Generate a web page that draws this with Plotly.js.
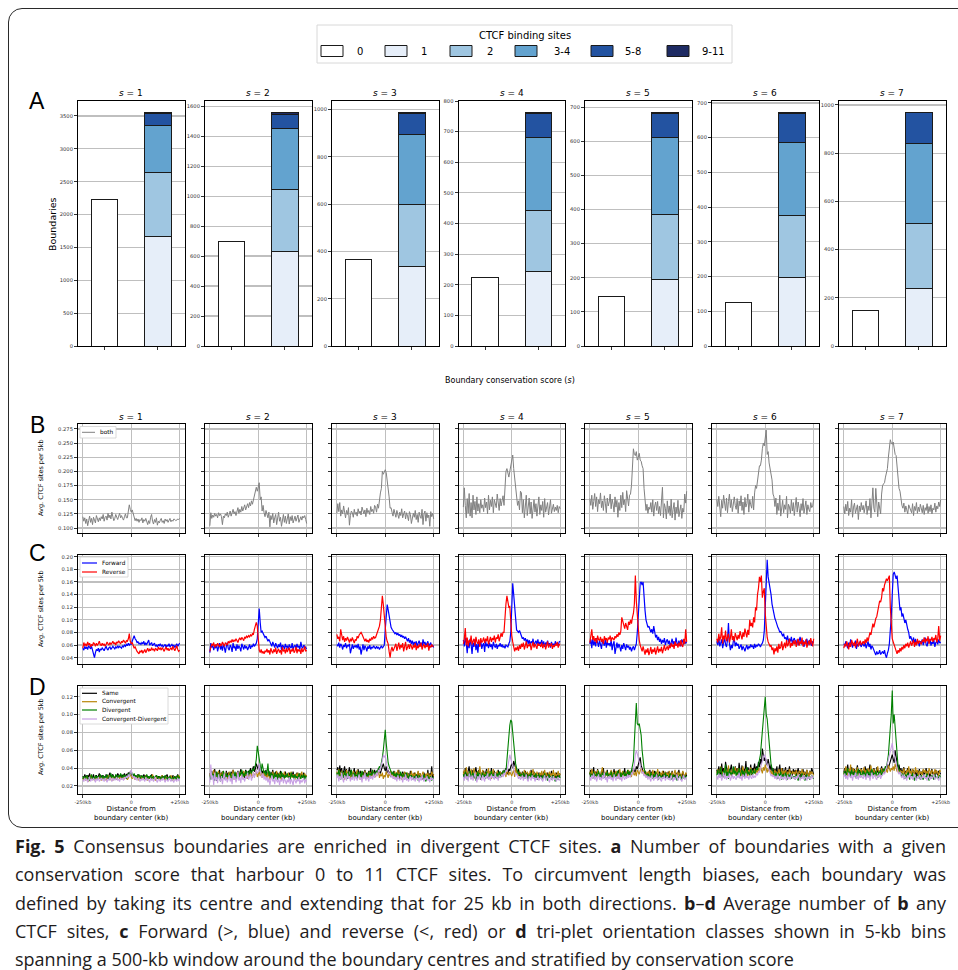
<!DOCTYPE html>
<html><head><meta charset="utf-8">
<script src="https://cdn.plot.ly/plotly-3.0.1.min.js"></script>
<style>
body{margin:0;background:#fff;}
#wrap{position:relative;width:958px;height:970px;overflow:hidden;background:#fff;}
#chart{position:absolute;left:0;top:0;width:958px;height:970px;}
#frame{position:absolute;left:8px;top:8px;width:990px;height:818px;border:1.5px solid #2a2a2a;border-radius:14px;pointer-events:none;}
#caption{position:absolute;left:15px;top:832px;font-family:"Open Sans",sans-serif;font-size:18px;line-height:28.3px;color:#1e1b1c;}
#caption div{width:931px;white-space:nowrap;}
#caption div.j{text-align:justify;text-align-last:justify;white-space:normal;}
</style></head>
<body><div id="wrap"><div id="chart"></div><div id="frame"></div>
<div id="caption">
<div class="j"><b>Fig. 5</b> Consensus boundaries are enriched in divergent CTCF sites. <b>a</b> Number of boundaries with a given</div>
<div class="j">conservation score that harbour 0 to 11 CTCF sites. To circumvent length biases, each boundary was</div>
<div class="j">defined by taking its centre and extending that for 25 kb in both directions. <b>b</b>–<b>d</b> Average number of <b>b</b> any</div>
<div class="j">CTCF sites, <b>c</b> Forward (&gt;, blue) and reverse (&lt;, red) or <b>d</b> tri-plet orientation classes shown in 5-kb bins</div>
<div>spanning a 500-kb window around the boundary centres and stratified by conservation score</div>
</div></div>
<script>
// ---------------- DATA ----------------
const scores = [1,2,3,4,5,6,7];
const siteClasses = ['0','1','2','3-4','5-8','9-11'];
// Panel A: boundaries per number of CTCF sites
const boundaries0   = [2230,700,367,224,146,126,149];
const boundaries1   = [1660,628,338,243,195,196,239];
const boundaries2   = [980,417,261,201,190,181,271];
const boundaries3_4 = [710,407,294,237,226,210,331];
const boundaries5_8 = [180,96,90,79,71,82,126];
const boundaries9_11= [20,9,4,2,2,3,1];
// Panels B-D: 5-kb bins (kb from boundary centre)
const xKb = [-250,-245,-240,-235,-230,-225,-220,-215,-210,-205,-200,-195,-190,-185,-180,-175,-170,-165,-160,-155,
-150,-145,-140,-135,-130,-125,-120,-115,-110,-105,-100,-95,-90,-85,-80,-75,-70,-65,-60,-55,
-50,-45,-40,-35,-30,-25,-20,-15,-10,-5,0,5,10,15,20,25,30,35,40,45,
50,55,60,65,70,75,80,85,90,95,100,105,110,115,120,125,130,135,140,145,
150,155,160,165,170,175,180,185,190,195,200,205,210,215,220,225,230,235,240,245,250];
// values below are in thousandths of a site per 5 kb
const VALUE_UNIT = 1000;
// B: both orientations
const bothS1 = [120,112,118,108,116,104,113,121,110,117,106,119,114,109,122,115,111,118,113,120,
116,124,112,119,121,114,126,118,123,116,128,120,113,117,124,119,115,121,126,118,
122,117,114,120,125,118,118,130,141,133,128,132,125,119,113,117,112,116,110,115,
113,118,109,115,112,117,110,106,113,108,119,124,112,107,115,110,118,105,112,109,
114,117,110,113,108,116,112,115,110,113,117,111,114,112,116,115,113,114,116,115,117];
const bothS2 = [104,127,117,123,119,126,121,124,118,127,122,125,120,106,121,118,125,122,128,119,
124,130,121,127,133,125,129,122,131,136,126,133,128,138,130,135,141,132,137,143,
136,145,139,148,142,150,158,160,172,165,176,180,150,155,130,140,127,120,131,124,
118,128,102,122,115,126,109,118,124,106,121,128,112,119,103,116,124,110,121,108,
118,125,107,120,113,122,109,117,121,112,119,123,110,116,120,114,121,118,122,115,108];
const bothS3 = [126,143,129,145,121,132,125,139,128,118,131,124,136,105,122,130,127,119,133,124,
128,121,134,126,130,123,137,129,125,132,120,135,127,131,124,138,129,133,126,140,
137,128,142,135,155,162,170,200,195,200,203,198,185,170,155,135,136,128,121,133,
126,119,131,124,117,128,122,134,118,125,130,116,127,121,113,129,124,108,122,126,
119,131,115,124,110,128,121,117,133,106,125,130,112,127,118,123,103,129,120,126,116];
const bothS4 = [137,171,140,118,152,126,161,121,145,118,158,132,147,124,155,130,143,127,150,135,
141,129,153,136,146,125,158,132,149,138,155,127,150,143,136,160,145,131,152,139,
148,157,140,180,200,205,196,190,200,210,216,229,205,185,170,155,140,148,132,165,
162,127,150,118,144,158,122,139,153,125,146,117,135,150,128,143,121,137,155,124,
141,131,147,119,152,128,136,145,123,139,150,126,134,142,129,137,131,140,127,138,134];
const bothS5 = [152,140,158,133,147,161,138,155,129,150,143,162,136,148,131,157,144,127,153,139,
146,160,134,151,142,128,155,137,149,119,145,131,158,136,163,141,150,129,166,147,
139,158,160,175,210,240,230,228,235,220,225,232,220,218,210,205,170,140,131,142,
126,137,133,145,128,150,121,139,146,131,147,125,138,122,154,172,118,143,135,116,
148,127,139,122,151,118,133,145,114,137,126,149,120,132,141,117,135,128,160,144,165];
const bothS6 = [151,138,156,142,120,149,135,158,144,131,153,127,147,160,136,150,129,145,155,140,
133,152,126,148,139,157,131,146,124,154,137,143,160,128,150,141,135,156,132,162,
175,170,182,200,210,210,220,240,250,245,260,273,230,235,215,205,200,185,160,155,
138,153,124,144,131,158,121,136,149,127,141,133,156,118,142,137,126,150,130,145,
122,139,154,128,146,135,120,143,131,152,126,137,148,124,141,133,129,145,136,139,151];
const bothS7 = [138,125,142,130,147,122,135,128,150,119,137,144,126,133,141,115,139,129,145,132,
140,127,136,148,124,139,131,152,118,143,171,135,128,170,134,120,146,137,125,160,
175,178,180,190,200,205,225,245,256,250,248,252,240,230,228,210,180,170,165,150,
140,135,144,128,139,132,125,141,136,130,127,143,122,138,131,145,126,137,129,142,
133,127,140,124,136,131,143,126,138,129,141,125,135,132,144,128,139,134,146,138,150];
// C: forward / reverse
const fwdS1 = [55,52,58,54,57,53,59,56,54,58,52,50,40,48,53,51,55,49,54,52,
56,53,51,55,58,54,52,56,57,53,55,58,56,54,57,55,59,56,58,57,
55,59,57,60,58,61,59,63,60,62,61,66,72,75,70,68,64,65,62,63,
61,64,62,66,60,63,61,65,68,60,62,64,59,61,63,58,60,57,61,59,
62,58,60,57,59,61,56,60,58,62,57,59,61,58,60,56,59,62,58,61,63];
const revS1 = [55,64,59,62,58,65,60,63,57,61,59,64,62,58,63,60,62,66,61,59,
63,60,62,58,61,65,62,60,64,61,63,66,62,64,60,65,63,67,64,62,
66,64,68,65,63,67,66,70,78,66,62,64,58,55,57,52,50,48,46,51,
49,52,47,50,53,48,52,55,50,53,51,56,52,54,50,55,53,51,57,53,
55,52,56,53,50,54,57,52,55,51,53,56,52,58,54,51,55,59,53,50,52];
const fwdS2 = [48,63,56,60,52,58,55,61,50,57,63,53,59,51,62,56,48,58,64,55,
52,60,57,49,63,55,58,51,61,54,59,56,50,62,57,53,60,55,58,52,
56,61,54,59,57,62,58,60,63,70,90,118,96,80,82,78,76,72,74,70,
66,69,64,62,58,65,60,56,63,59,55,61,57,64,52,60,58,54,62,56,
59,53,61,57,55,63,52,58,60,54,62,56,59,53,65,57,55,60,58,56,54];
const revS2 = [50,57,62,59,64,56,61,58,63,60,57,62,59,65,61,58,64,62,60,66,
63,67,64,69,65,68,66,70,67,64,69,71,68,72,70,67,73,71,74,72,
75,73,76,74,78,77,85,93,96,90,72,52,48,53,47,50,46,51,49,54,
48,52,45,55,50,47,53,49,56,46,51,54,48,52,45,57,50,53,47,55,
49,52,56,46,53,50,55,48,51,57,47,54,50,53,46,55,49,52,58,50,52];
const fwdS3 = [61,58,64,56,62,59,53,60,57,63,55,60,58,62,47,56,61,54,59,57,
60,55,62,53,58,45,57,61,52,59,56,50,58,54,60,53,57,55,59,56,
54,58,55,57,53,56,59,55,57,60,85,110,124,116,105,96,88,85,82,80,
78,80,76,79,75,77,73,76,72,74,70,73,69,66,71,64,68,62,67,60,
65,61,66,58,63,67,60,64,57,69,62,65,59,63,66,58,62,64,57,60,56];
const revS3 = [77,70,73,66,85,72,68,74,65,71,67,73,69,64,70,66,72,68,63,69,
67,74,71,76,78,80,77,73,69,66,70,65,68,64,70,67,72,69,74,71,
72,76,80,86,90,100,118,138,124,106,95,72,66,62,50,40,52,57,50,54,
55,62,51,58,64,53,60,56,63,50,59,65,52,57,61,54,62,58,53,60,
56,63,52,59,55,61,57,64,53,58,62,55,60,57,63,51,59,56,61,58,58];
const fwdS4 = [68,58,72,63,47,66,55,70,61,46,64,57,69,52,62,48,65,59,67,54,
60,63,49,66,58,62,55,64,57,61,53,65,59,56,62,54,60,58,63,57,
61,56,59,55,60,58,57,62,66,80,115,158,140,118,100,84,82,80,83,78,
74,70,72,67,71,65,69,62,68,60,66,63,70,58,64,67,61,69,59,65,
62,68,60,66,57,64,61,67,59,63,56,65,60,62,58,66,61,63,59,65,66];
const revS4 = [62,70,87,60,72,58,68,64,75,61,66,70,59,73,65,62,69,57,71,64,
67,72,63,70,66,74,61,69,73,65,71,68,75,64,72,70,77,66,74,79,
73,80,80,110,125,138,128,120,121,90,75,65,58,50,56,52,58,51,60,54,
62,57,64,53,59,66,55,61,58,63,52,60,65,56,62,58,54,63,59,61,
57,64,55,60,62,53,59,66,56,61,58,63,54,60,57,62,59,65,56,61,60];
const fwdS5 = [62,69,55,72,60,66,58,71,64,57,68,61,54,67,63,59,70,56,65,60,
63,58,68,52,61,66,46,59,64,55,62,57,50,60,54,63,58,52,61,56,
59,53,57,50,55,58,52,56,62,80,110,140,158,160,155,160,130,115,100,92,
88,90,85,80,85,78,90,80,72,76,68,73,65,70,62,68,64,71,60,66,
69,62,67,58,64,70,61,66,59,72,63,60,67,62,58,69,64,61,66,63,65];
const revS5 = [64,72,85,68,74,66,71,63,75,69,67,73,65,70,62,74,68,71,64,72,
69,75,66,72,70,68,74,71,77,73,80,76,82,104,98,92,86,95,88,84,
97,92,100,94,104,110,125,170,130,105,85,68,60,55,50,58,52,45,53,48,
55,44,50,57,46,53,49,56,45,52,58,48,54,50,57,47,53,60,51,56,
58,52,60,55,63,57,61,54,66,59,62,56,64,58,68,60,57,70,62,85,65];
const fwdS6 = [66,60,71,58,63,69,55,64,72,61,57,68,95,62,52,60,55,66,70,58,
64,59,62,54,57,61,52,58,55,50,56,60,53,58,55,61,57,59,54,62,
56,60,58,62,60,57,61,63,68,82,120,158,195,168,160,150,140,125,115,110,
102,98,92,88,85,80,82,77,74,78,70,72,68,75,64,70,66,73,62,68,
71,65,62,69,60,67,73,64,61,68,57,66,63,70,60,65,68,62,59,66,64];
const revS6 = [70,64,78,67,73,88,62,75,69,83,66,72,78,64,71,85,68,74,66,79,
72,68,76,70,82,74,69,80,73,86,78,72,84,76,100,90,95,88,104,96,
120,115,140,150,168,160,170,135,145,150,110,80,72,65,62,58,60,52,56,45,
55,50,58,48,62,54,57,66,52,60,64,55,68,58,62,70,56,63,59,67,
61,68,57,64,70,59,66,62,72,58,65,61,69,56,63,67,60,71,64,58,70];
const fwdS7 = [62,58,66,60,55,64,57,69,61,56,63,59,67,54,62,58,65,60,57,63,
61,58,64,55,60,66,57,62,53,59,56,52,48,44,50,46,47,52,45,49,
50,46,52,44,40,47,52,62,80,105,140,172,176,170,165,170,150,130,115,120,
105,110,100,95,100,90,85,80,70,74,68,65,72,62,70,60,67,64,58,66,
63,69,60,66,72,61,58,67,63,70,59,65,62,68,57,64,66,61,69,63,65];
const revS7 = [55,62,58,66,60,53,64,57,68,61,59,65,56,63,70,58,62,67,60,64,
66,61,69,63,72,66,74,80,76,84,94,88,98,102,105,112,118,130,128,135,
150,145,155,160,165,162,168,170,120,90,70,65,60,55,50,46,52,48,55,50,
57,53,60,55,62,58,64,56,61,66,59,63,68,57,65,60,70,62,67,64,
61,68,65,72,63,70,66,74,62,69,67,73,65,71,68,76,64,70,90,67,75];
// D: triplet orientation classes
const sameS1 = [31,28,33,29,27,32,30,34,28,31,29,33,27,30,32,28,31,34,29,30,
32,29,31,27,33,30,28,32,35,29,31,33,30,28,32,29,34,31,30,33,
29,32,31,34,30,33,32,35,33,36,34,31,33,30,32,29,31,33,30,32,
28,31,29,33,30,27,32,29,31,28,30,33,29,31,27,30,32,28,31,29,
30,28,32,29,31,27,30,33,29,28,31,30,27,32,29,31,28,30,33,29,31];
const convS1 = [29,27,30,26,31,28,25,29,32,27,30,28,26,31,29,27,30,28,32,26,
28,31,27,30,26,29,32,28,27,30,29,26,31,28,30,27,29,32,28,30,
27,31,29,28,32,30,27,29,31,33,30,28,31,29,27,30,28,32,26,29,
31,28,30,27,29,32,28,26,30,29,31,27,33,28,30,26,29,31,28,30,
27,29,32,28,30,26,31,28,29,27,30,32,28,26,31,29,27,30,28,32,29];
const divS1 = [28,31,27,30,32,28,29,26,31,33,28,30,27,32,29,31,28,30,33,27,
30,32,28,31,29,33,30,27,31,34,29,32,30,28,33,31,29,32,30,34,
31,29,33,30,32,28,31,34,32,35,37,33,31,34,30,32,29,31,33,28,
30,32,29,31,28,30,33,27,31,29,32,28,30,31,27,29,32,30,28,31,
29,27,31,30,28,32,29,27,30,28,31,29,26,30,28,31,27,29,32,28,30];
const cdS1 = [27,25,29,26,28,24,27,30,25,28,26,29,27,24,28,26,30,25,27,29,
26,28,25,29,27,24,28,26,30,27,25,29,26,28,27,30,26,28,25,29,
27,29,26,30,28,31,29,33,30,35,38,32,29,31,27,30,26,28,29,25,
28,26,29,27,25,30,26,28,27,24,29,26,28,25,27,30,26,24,28,27,
25,28,26,29,27,24,28,26,25,29,27,25,28,26,24,28,27,25,29,26,27];
const sameS2 = [34,30,37,28,33,39,31,26,35,32,38,29,34,36,30,33,27,37,31,35,
33,29,36,31,38,34,28,35,32,37,30,34,39,31,36,33,29,38,34,32,
37,33,40,35,38,42,36,39,45,41,38,44,36,40,34,37,32,35,38,31,
34,37,30,35,33,38,29,34,36,31,35,28,33,37,30,34,32,29,36,31,
33,30,35,28,34,31,36,29,33,30,35,32,28,34,31,33,29,35,30,32,31];
const convS2 = [31,36,28,33,38,30,35,27,32,37,29,34,31,36,28,33,30,35,27,32,
36,29,34,31,38,27,33,30,35,32,28,36,31,34,29,37,32,30,35,28,
33,30,36,32,29,35,31,34,38,30,33,36,31,35,29,34,37,30,33,28,
35,31,27,34,30,36,29,33,31,37,28,32,35,30,26,34,31,36,29,33,
30,35,28,32,36,29,33,31,27,34,30,35,32,28,33,36,29,31,34,30,32];
const divS2 = [32,27,35,29,33,26,31,36,28,34,30,25,33,29,37,31,28,34,30,32,
29,35,31,27,34,30,36,28,33,31,29,35,32,38,30,34,31,37,33,36,
32,38,35,34,39,37,41,43,50,65,58,52,42,36,45,40,34,37,32,35,
45,31,36,29,34,32,28,35,30,33,27,34,31,29,36,30,33,28,32,30,
34,29,31,27,35,30,32,28,33,29,31,26,34,30,28,32,29,33,27,31,30];
const cdS2 = [24,44,27,32,21,35,26,30,23,33,28,25,31,22,29,34,26,30,24,28,
32,25,29,22,34,27,31,24,28,36,26,30,23,33,27,29,25,31,28,35,
27,30,33,26,31,35,29,33,38,34,36,45,37,32,29,34,27,31,26,30,
24,29,21,27,32,25,28,22,30,26,24,29,21,27,25,30,23,28,26,22,
27,24,30,22,28,25,21,29,26,23,28,25,30,22,27,24,26,29,23,27,25];
const sameS3 = [38,41,33,43,35,40,31,37,42,34,39,30,36,41,33,38,29,35,40,32,
36,33,39,30,37,34,28,36,32,38,31,35,29,37,33,40,31,36,34,38,
33,37,35,40,36,34,38,42,45,40,37,42,35,38,33,36,30,34,31,37,
33,29,35,31,38,28,34,30,36,32,29,35,31,27,34,30,37,33,29,32,
35,30,33,28,36,31,34,29,32,27,35,30,33,29,38,28,34,31,42,29,33];
const convS3 = [36,31,39,28,34,37,30,35,27,33,38,29,36,32,28,35,30,37,33,29,
34,38,30,35,27,33,36,29,32,37,31,28,35,30,36,33,29,38,31,34,
30,35,32,37,29,33,31,35,28,32,30,36,33,29,35,31,37,30,34,28,
36,30,33,38,29,35,31,27,34,30,36,32,28,35,31,33,29,37,30,34,
31,35,28,33,37,30,34,29,32,36,30,27,34,31,35,29,33,30,36,32,31];
const divS3 = [35,30,38,32,27,36,33,29,37,31,34,28,36,30,33,38,29,32,35,30,
33,28,36,31,34,29,37,32,30,35,28,33,31,36,29,34,32,38,30,35,
33,37,35,39,42,40,45,52,60,75,83,68,56,46,42,38,35,33,36,31,
34,30,35,28,33,31,36,29,32,34,27,31,35,30,28,33,29,32,30,27,
31,28,33,29,26,32,30,27,31,29,33,28,25,30,32,27,29,31,26,30,28];
const cdS3 = [29,33,25,31,27,35,28,24,32,29,26,34,28,31,25,30,27,33,26,29,
31,26,29,33,27,30,24,32,28,35,26,30,29,25,32,28,31,27,34,29,
32,35,31,38,36,40,42,48,55,52,54,46,40,36,33,35,30,32,28,31,
27,30,25,32,28,26,31,29,24,30,27,33,26,29,25,28,31,26,30,27,
28,25,31,27,29,24,30,26,32,28,25,29,27,31,26,28,24,30,27,29,26];
const sameS4 = [36,31,40,33,28,37,42,30,35,38,32,29,36,41,33,30,38,34,27,35,
32,37,30,35,39,31,28,36,33,40,30,34,37,29,35,32,38,31,36,33,
35,31,38,34,40,36,33,39,37,42,45,40,48,44,38,36,33,39,31,35,
30,36,33,29,37,32,35,28,34,31,38,30,33,36,29,34,32,27,35,31,
34,29,32,36,30,33,28,35,31,34,29,37,32,30,33,28,35,31,29,34,32];
const convS4 = [33,38,30,41,35,29,36,32,39,31,34,40,28,35,33,37,30,42,34,31,
38,32,35,29,37,33,40,31,36,28,34,39,32,35,30,37,33,29,36,34,
31,37,33,35,30,38,34,32,36,33,31,35,38,30,42,34,36,31,37,33,
29,35,32,38,34,30,36,33,31,37,29,34,39,32,35,30,36,33,28,35,
32,37,30,34,38,31,35,29,33,36,30,34,32,38,29,35,31,33,37,30,34];
const divS4 = [33,29,36,31,27,34,30,37,28,32,35,29,33,26,31,36,30,34,28,32,
35,30,33,28,36,31,29,34,32,37,30,33,28,35,31,34,29,36,32,30,
34,37,33,38,36,50,65,75,88,94,92,80,65,50,45,40,36,33,35,31,
33,29,35,30,28,34,31,27,33,30,35,29,32,28,31,34,27,30,33,29,
31,27,32,29,34,28,30,26,33,29,31,27,30,32,28,25,31,29,27,32,29];
const cdS4 = [30,26,33,28,31,25,34,29,27,32,26,30,35,28,24,31,27,33,29,26,
32,28,25,31,29,34,27,30,26,33,29,31,27,35,28,30,26,32,29,31,
33,30,35,32,38,36,42,48,55,50,47,42,38,35,32,34,30,28,31,27,
29,32,26,30,28,33,27,25,31,29,26,32,28,30,25,29,27,31,26,28,
30,27,25,29,32,26,28,31,27,24,30,28,26,31,27,29,25,28,30,26,28];
const sameS5 = [33,38,30,35,41,29,36,32,39,31,34,28,37,33,40,30,35,32,38,29,
34,31,37,28,35,39,32,36,30,33,38,29,35,31,36,33,40,30,34,37,
32,36,30,38,34,40,37,35,42,39,44,47,52,43,39,36,33,37,31,35,
30,34,38,31,36,29,33,37,30,35,32,28,36,31,34,30,37,33,29,35,
32,36,29,34,31,37,30,33,28,35,31,34,38,30,33,29,36,32,30,34,31];
const convS5 = [36,31,39,33,29,37,34,30,38,32,35,28,36,41,31,34,29,37,33,30,
35,32,38,29,36,33,31,37,34,28,35,39,30,33,37,31,35,29,36,32,
38,33,35,30,37,34,32,36,31,38,35,33,37,40,34,38,32,35,30,36,
33,37,31,35,29,38,34,30,36,32,39,33,30,35,31,37,34,29,36,32,
35,30,37,33,29,36,31,34,38,30,33,36,31,35,29,34,37,32,30,35,33];
const divS5 = [35,30,33,28,36,32,29,34,31,37,30,33,27,35,31,29,34,32,36,30,
33,29,36,31,28,35,32,30,34,37,31,28,35,30,33,36,31,34,29,38,
33,36,32,38,40,48,70,90,113,90,88,90,85,77,60,48,40,36,33,30,
34,31,29,35,32,28,33,30,36,29,32,27,34,30,31,28,33,29,35,30,
32,28,31,34,29,27,33,30,28,32,26,31,29,33,27,30,28,32,29,31,30];
const cdS5 = [30,26,32,28,34,27,31,25,29,33,27,30,26,32,28,35,27,30,24,31,
28,32,27,30,25,33,29,26,31,28,34,27,30,25,32,29,27,31,28,33,
29,32,30,35,33,38,44,55,60,56,52,47,43,38,34,36,31,33,29,32,
27,31,28,25,32,29,26,30,28,33,26,29,31,27,25,30,28,32,26,29,
31,27,29,26,32,28,25,30,27,29,33,26,28,31,27,25,29,32,27,28,30];
const sameS6 = [38,33,42,36,30,45,35,40,32,47,37,34,41,31,39,44,33,38,36,42,
35,40,32,46,37,34,43,30,39,36,48,33,41,37,35,44,32,40,38,45,
36,42,39,47,41,50,44,62,55,48,52,46,43,50,41,38,44,36,40,34,
39,35,42,31,38,44,33,37,40,32,36,41,30,38,35,42,33,37,31,39,
34,38,31,36,40,33,37,29,35,39,32,36,30,38,34,31,37,33,40,35,33];
const convS6 = [34,39,31,37,42,33,36,30,40,35,38,32,43,34,37,31,39,35,33,41,
36,32,40,34,38,31,37,42,35,33,39,36,31,38,34,41,33,37,35,39,
33,38,35,40,36,42,38,34,41,37,44,39,35,40,36,38,33,37,31,35,
38,34,36,31,39,35,33,40,32,37,34,38,30,36,33,39,35,31,37,34,
36,32,38,34,30,37,35,33,39,31,36,34,32,38,35,30,37,33,36,34,32];
const divS6 = [32,38,30,35,41,33,29,37,34,44,31,36,28,39,33,35,30,42,34,37,
31,36,33,40,29,35,38,32,37,30,34,41,33,36,31,39,35,32,38,34,
36,40,38,45,48,55,68,80,100,103,120,100,95,82,65,50,44,40,36,33,
30,35,32,28,34,31,36,27,33,30,29,35,31,27,33,30,34,28,32,29,
31,27,33,29,26,32,30,28,34,29,31,26,30,33,28,31,27,29,32,30,28];
const cdS6 = [31,27,34,29,33,26,30,35,28,32,27,31,29,34,26,30,33,28,31,29,
27,32,29,35,28,31,26,33,30,28,34,29,31,27,32,30,28,33,29,31,
30,34,32,36,35,40,45,50,52,55,53,48,44,40,36,34,31,33,30,32,
28,31,27,33,29,26,32,28,30,27,31,29,26,32,28,30,27,33,29,28,
30,27,31,28,33,29,26,30,28,32,27,30,29,26,31,28,30,27,32,29,30];
const sameS7 = [35,40,32,38,44,34,37,30,41,36,33,39,31,37,43,34,38,32,40,35,
37,33,42,35,39,31,36,44,34,38,32,40,36,33,41,35,38,31,37,42,
36,39,34,42,38,45,40,44,48,52,55,50,46,60,52,42,39,44,36,40,
34,38,41,33,37,35,40,32,36,39,31,35,38,33,36,30,37,34,39,32,
36,33,38,31,35,40,32,37,34,30,36,39,33,35,31,38,34,32,37,35,33];
const convS7 = [33,38,42,35,31,39,36,44,33,37,40,32,38,35,41,34,30,37,39,33,
36,41,34,38,32,40,35,37,43,33,36,39,34,31,38,42,35,37,33,40,
34,38,36,41,37,35,43,39,36,40,38,42,37,45,39,36,41,34,38,35,
37,33,40,36,31,38,35,42,34,37,32,39,36,33,41,35,38,31,37,34,
36,32,39,35,38,33,37,31,40,35,33,38,36,32,39,34,37,35,31,38,36];
const divS7 = [33,37,30,35,40,32,36,29,38,34,31,37,33,28,35,39,32,36,30,34,
37,31,35,29,38,33,36,30,34,39,32,35,31,37,33,29,36,34,38,32,
35,39,37,42,40,48,55,70,85,100,127,90,100,85,65,50,42,38,36,33,
30,34,31,28,33,29,35,30,27,32,29,34,30,26,31,28,33,29,31,27,
32,29,27,33,30,28,34,29,26,31,28,32,30,27,33,29,31,28,30,32,29];
const cdS7 = [30,34,28,32,27,35,31,29,33,26,32,30,35,28,31,27,34,29,32,30,
28,33,30,27,34,29,32,26,31,35,28,30,33,29,27,32,30,34,28,31,
32,35,33,38,40,45,50,55,58,62,68,60,55,48,42,38,35,33,36,31,
29,33,27,31,30,26,32,29,34,28,31,27,30,33,29,26,31,28,32,30,
27,31,29,33,28,30,26,32,29,27,31,28,30,33,27,29,31,28,26,30,29];

const bothBy = [bothS1,bothS2,bothS3,bothS4,bothS5,bothS6,bothS7];
const fwdBy  = [fwdS1,fwdS2,fwdS3,fwdS4,fwdS5,fwdS6,fwdS7];
const revBy  = [revS1,revS2,revS3,revS4,revS5,revS6,revS7];
const sameBy = [sameS1,sameS2,sameS3,sameS4,sameS5,sameS6,sameS7];
const convBy = [convS1,convS2,convS3,convS4,convS5,convS6,convS7];
const divBy  = [divS1,divS2,divS3,divS4,divS5,divS6,divS7];
const cdBy   = [cdS1,cdS2,cdS3,cdS4,cdS5,cdS6,cdS7];
const xTickLabels = ['-250kb','0','+250kb'];

// ---------------- STYLE / LAYOUT ----------------
const W=958,H=970;
const FONT='DejaVu Sans';
const classColors=['#ffffff','#e6eef9','#9fc6e1','#63a3cf','#2353a1','#1e2b63'];
const edge={color:'#1a1a1a',width:1};
const colLeft=[78,205,332,458.5,585,712,839], colW=106.5;
const rowTop=[101,424,555,686], rowH=[245,109,109,108];
const px=x=>x/W, py=y=>1-y/H;
const layout={width:W,height:H,margin:{l:0,r:0,t:0,b:0},paper_bgcolor:'#fff',plot_bgcolor:'#fff',
  showlegend:false,barmode:'stack',font:{family:FONT,color:'#000'},annotations:[],shapes:[]};
const data=[];
const aDtick=[500,200,200,100,100,100,200];
const lineRows=[
  {range:[0.0912,0.2838],tick0:0.1,dtick:0.025,fmt:'.3f'},
  {range:[0.0300,0.2027],tick0:0.04,dtick:0.02,fmt:'.2f'},
  {range:[0.0110,0.1320],tick0:0.02,dtick:0.02,fmt:'.2f'}];
const toVal=a=>a.map(v=>v/VALUE_UNIT);
const grid='#bfbfbf';

for(let r=0;r<4;r++){for(let c=0;c<7;c++){
  const n=r*7+c+1, s=n===1?'':String(n);
  const x0=colLeft[c], x1=x0+colW, y0=rowTop[r], y1=y0+rowH[r];
  const common={showline:true,mirror:true,linecolor:'#000',linewidth:1,ticks:'outside',ticklen:3,tickwidth:0.8,
    tickcolor:'#000',zeroline:false,fixedrange:true,gridcolor:grid,gridwidth:1.2,tickfont:{family:FONT,size:5.2,color:'#333'}};
  const xa={...common,domain:[px(x0),px(x1)],anchor:'y'+s};
  const ya={...common,domain:[py(y1),py(y0)],anchor:'x'+s};
  const xref='x'+s, yref='y'+s;
  if(r===0){
    const tot=boundaries1[c]+boundaries2[c]+boundaries3_4[c]+boundaries5_8[c]+boundaries9_11[c];
    Object.assign(xa,{range:[-0.5,1.5],tickvals:[0,1],showticklabels:false,showgrid:false});
    Object.assign(ya,{range:[0,Math.max(tot,boundaries0[c])*1.05],tick0:0,dtick:aDtick[c],showgrid:true,ticklen:3});
    data.push({type:'bar',x:[0],y:[boundaries0[c]],width:0.5,marker:{color:classColors[0],line:edge},xaxis:xref,yaxis:yref,name:siteClasses[0]});
    const segs=[boundaries1,boundaries2,boundaries3_4,boundaries5_8,boundaries9_11];
    segs.forEach((arr,k)=>data.push({type:'bar',x:[1],y:[arr[c]],width:0.5,marker:{color:classColors[k+1],line:edge},xaxis:xref,yaxis:yref,name:siteClasses[k+1]}));
  } else {
    const lr=lineRows[r-1];
    Object.assign(xa,{range:[-275,275],tickvals:[-250,0,250],ticktext:xTickLabels,showgrid:true,showticklabels:r===3,tickfont:{family:FONT,size:4.8,color:'#333'}});
    Object.assign(ya,{range:lr.range,tick0:lr.tick0,dtick:lr.dtick,tickformat:lr.fmt,showgrid:true,showticklabels:c===0});
    const add=(arr,color,w,name)=>data.push({type:'scatter',mode:'lines',x:xKb.slice(0,arr.length),y:toVal(arr),
      line:{color:color,width:w},xaxis:xref,yaxis:yref,name:name});
    if(r===1){add(bothBy[c],'#808080',1,'both');}
    if(r===2){add(fwdBy[c],'#0000ff',1.2,'Forward');add(revBy[c],'#ff0000',1.2,'Reverse');}
    if(r===3){add(sameBy[c],'#000000',1.1,'Same');add(convBy[c],'#b8860b',1.1,'Convergent');
      add(divBy[c],'#008000',1.1,'Divergent');add(cdBy[c],'#c8a0e4',1.1,'Convergent-Divergent');}
  }
  layout['xaxis'+s]=xa; layout['yaxis'+s]=ya;
}}

const ann=(x,y,text,size,extra)=>layout.annotations.push(Object.assign({xref:'paper',yref:'paper',x:px(x),y:py(y),text:text,
  showarrow:false,font:{family:FONT,size:size,color:'#000'},xanchor:'center',yanchor:'middle'},extra||{}));
const rect=(x0,y0,x1,y1,fill,line)=>layout.shapes.push({type:'rect',xref:'paper',yref:'paper',x0:px(x0),x1:px(x1),y0:py(y1),y1:py(y0),
  fillcolor:fill,line:line,layer:'above'});
const seg=(x0,y0,x1,y1,color,w)=>layout.shapes.push({type:'line',xref:'paper',yref:'paper',x0:px(x0),x1:px(x1),y0:py(y0),y1:py(y1),
  line:{color:color,width:w},layer:'above'});

// subplot titles
for(let c=0;c<7;c++){
  const cx=colLeft[c]+colW/2;
  ann(cx,92.5,'<i>s</i> = '+scores[c],9);
  ann(cx,417,'<i>s</i> = '+scores[c],9);
  ann(cx,813.5,'Distance from<br>boundary center (kb)',7,{});
}
// panel letters
[['A',101],['B',425],['C',553],['D',687]].forEach(p=>ann(37,p[1],p[0],23,{font:{family:'Liberation Sans',size:23,color:'#000'}}));
// axis titles
ann(52,224,'Boundaries',9.5,{textangle:-90});
ann(41,478,'Avg. CTCF sites per 5kb',6.5,{textangle:-90});
ann(41,609,'Avg. CTCF sites per 5kb',6.5,{textangle:-90});
ann(41,737,'Avg. CTCF sites per 5kb',6.5,{textangle:-90});
ann(510,381,'Boundary conservation score (<i>s</i>)',8);

// top legend (CTCF binding sites)
rect(317,25,732,63,'#ffffff',{color:'#d8d8d8',width:1});
ann(524.5,36,'CTCF binding sites',10);
const legSwX=[321,385,450,515,591,667], legLabX=[355,419,485,552,623,700];
siteClasses.forEach((lab,k)=>{
  rect(legSwX[k],45.5,legSwX[k]+22,56.5,classColors[k],{color:'#1a1a1a',width:1});
  ann(legLabX[k],51,lab,10,{xanchor:'left'});
});
// inner legends
rect(80,426.5,116,438,'#ffffff',{color:'#d0d0d0',width:0.8});
seg(82,432.3,95,432.3,'#808080',1); ann(98,432.3,'both',5.8,{xanchor:'left'});
rect(80,557,128,577,'#ffffff',{color:'#d0d0d0',width:0.8});
seg(82,563,97,563,'#0000ff',1.2); ann(100,563,'Forward',5.8,{xanchor:'left'});
seg(82,572,97,572,'#ff0000',1.2); ann(100,572,'Reverse',5.8,{xanchor:'left'});
rect(80,688,168,724,'#ffffff',{color:'#d0d0d0',width:0.8});
const dLeg=[['Same','#000000',693.3],['Convergent','#b8860b',701.7],['Divergent','#008000',710],['Convergent-Divergent','#c8a0e4',719]];
dLeg.forEach(d=>{seg(82,d[2],97,d[2],d[1],1.2); ann(100,d[2],d[0],5.8,{xanchor:'left'});});

Plotly.newPlot('chart',data,layout,{staticPlot:true,displayModeBar:false});
</script>
</body></html>
